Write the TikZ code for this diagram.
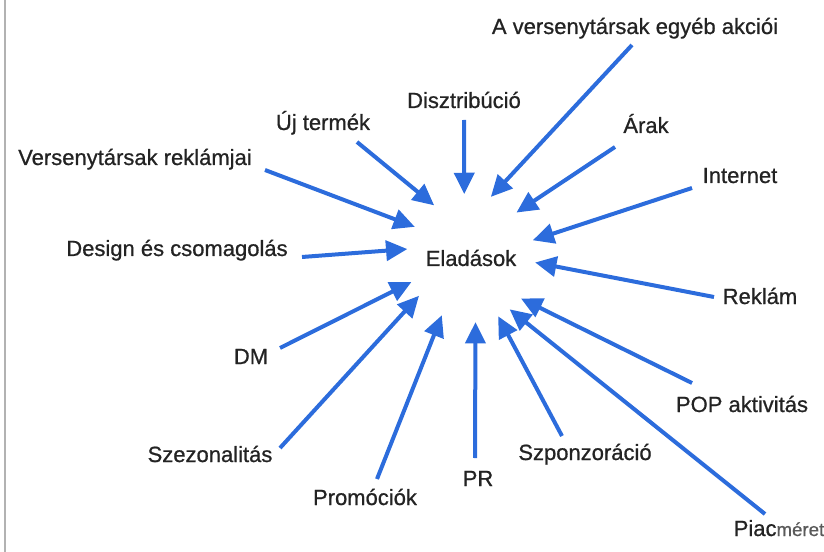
\documentclass[tikz,border=0pt]{standalone}
\usepackage{fontspec}
\setmainfont{Liberation Sans}
\usepackage{xcolor}
\usepackage{tikz}
\usetikzlibrary{arrows.meta,positioning}

\definecolor{arrowblue}{RGB}{44,108,220}
\definecolor{labelgray}{RGB}{35,35,35}

\newcommand{\labelfont}{\fontsize{16.5pt}{20pt}\selectfont\addfontfeatures{FakeBold=0.8}}

\begin{document}
\begin{tikzpicture}[
        x=0.75pt, y=-0.75pt,
        factor/.style={anchor=base, inner sep=0pt, text=labelgray, font=\labelfont},
        hub/.style={circle, minimum size=96pt, inner sep=0pt, text=labelgray, font=\labelfont},
        influence/.style={draw=arrowblue, line width=3pt, -{Triangle[length=16pt,width=15pt]}}
    ]
        \useasboundingbox (0,0) rectangle (824,552);
        \draw[gray!60, line width=0.8pt] (5,0) -- (5,552);

        \node[hub] (eladas) at (471,258) {Eladások};

        % labels
        \node[factor] (versakc) at (635,34) {A versenytársak egyéb akciói};
        \node[factor] (disztrib) at (464,108) {Disztribúció};
        \node[factor] (ujtermek) at (323,130) {Új termék};
        \node[factor] (arak) at (646,133) {Árak};
        \node[factor] (versrekl) at (135,165) {Versenytársak reklámjai};
        \node[factor] (internet) at (740,183) {Internet};
        \node[factor] (design) at (177,256) {Design és csomagolás};
        \node[factor] (reklam) at (760,304) {Reklám};
        \node[factor] (dm) at (251,364) {DM};
        \node[factor] (pop) at (742,412) {POP aktivitás};
        \node[factor] (szezon) at (210,462) {Szezonalitás};
        \node[factor] (szponz) at (585,460) {Szponzoráció};
        \node[factor] (pr) at (478,486) {PR};
        \node[factor] (promo) at (365,505) {Promóciók};
        \node[factor] (piac) at (779,536) {Piac{\fontsize{14pt}{16pt}\selectfont\color{labelgray!75}méret}};

        % arrow tails
        \coordinate (versakc-t) at (632,45);
        \coordinate (disztrib-t) at (464,120);
        \coordinate (ujtermek-t) at (357,142);
        \coordinate (arak-t) at (615,147);
        \coordinate (versrekl-t) at (265,170);
        \coordinate (internet-t) at (692,188);
        \coordinate (design-t) at (302,257);
        \coordinate (reklam-t) at (714,297);
        \coordinate (dm-t) at (280,348);
        \coordinate (pop-t) at (692,383);
        \coordinate (szezon-t) at (280,448);
        \coordinate (szponz-t) at (562,436);
        \coordinate (pr-t) at (475,458);
        \coordinate (promo-t) at (377,479);
        \coordinate (piac-t) at (765,514);

        \draw[influence] (versakc-t) -- (eladas.72);
        \draw[influence] (disztrib-t) -- (eladas.96);
        \draw[influence] (ujtermek-t) -- (eladas.125);
        \draw[influence] (arak-t) -- (eladas.45);
        \draw[influence] (versrekl-t) -- (eladas.151);
        \draw[influence] (internet-t) -- (eladas.16);
        \draw[influence] (design-t) -- (eladas.172);
        \draw[influence] (reklam-t) -- (eladas.356);
        \draw[influence] (dm-t) -- (eladas.202);
        \draw[influence] (pop-t) -- (eladas.321);
        \draw[influence] (szezon-t) -- (eladas.216);
        \draw[influence] (szponz-t) -- (eladas.295);
        \draw[influence] (pr-t) -- (eladas.274);
        \draw[influence] (promo-t) -- (eladas.243);
        \draw[influence] (piac-t) -- (eladas.307);
    \end{tikzpicture}
\end{document}
